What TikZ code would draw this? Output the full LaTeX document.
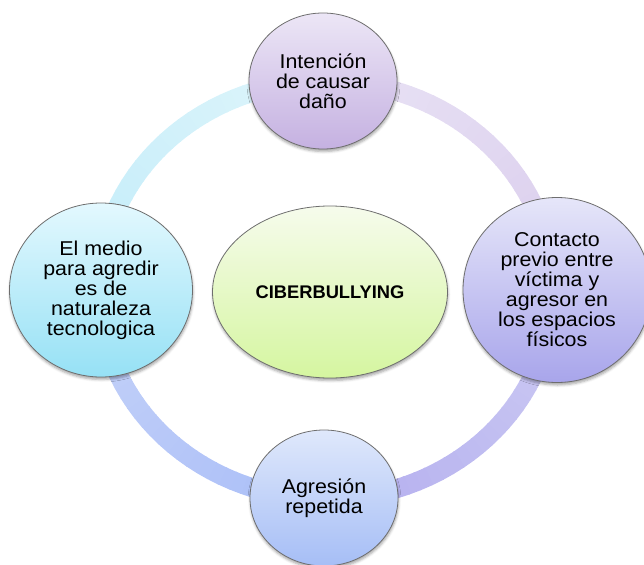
\documentclass[tikz,border=0pt]{standalone}
\usepackage{fontspec}
\setmainfont{Liberation Sans}[FakeStretch=1.07]
\newfontfamily\titlefont{Liberation Sans}
\usetikzlibrary{shapes.geometric,shadows.blur}
\definecolor{bordergray}{HTML}{6E6E6E}
\definecolor{topT}{HTML}{ECE6F6}\definecolor{topB}{HTML}{C5B1E1}
\definecolor{rightT}{HTML}{E6E6F9}\definecolor{rightB}{HTML}{A8A5EB}
\definecolor{botT}{HTML}{DFE8FB}\definecolor{botB}{HTML}{A6BEF6}
\definecolor{leftT}{HTML}{E3F8FE}\definecolor{leftB}{HTML}{96E1F5}
\definecolor{cenT}{HTML}{F6FBEC}\definecolor{cenB}{HTML}{D5F6A0}
\definecolor{trTop}{HTML}{E9E3F5}\definecolor{trRight}{HTML}{DACDED}
\definecolor{brRight}{HTML}{CFCDF3}\definecolor{brBottom}{HTML}{B3AEEF}
\definecolor{blBottom}{HTML}{A9BDF7}\definecolor{blLeft}{HTML}{C6D3F9}
\definecolor{tlLeft}{HTML}{C2ECF9}\definecolor{tlTop}{HTML}{DFF5FB}
\AtBeginDocument{\lineskiplimit=-20pt\relax}
\begin{document}
\begin{tikzpicture}[x=1pt,y=-1pt,
  bubble/.style={ellipse, draw=bordergray, line width=0.8pt, inner sep=0pt, align=center,
    font=\fontsize{20}{20}\selectfont,
    blur shadow={shadow xshift=0.5pt, shadow yshift=-2.5pt, shadow blur radius=2.5pt, shadow opacity=35}},
  ringseg/.style={line width=19pt, line cap=butt}]
\useasboundingbox (0,0) rectangle (644,564);
% ring
\foreach \q/\cs/\ce in {270/trTop/trRight, 0/brRight/brBottom, 90/blBottom/blLeft, 180/tlLeft/tlTop}{
  \foreach \i in {0,...,29}{
    \pgfmathsetmacro\a{\q+\i*3}
    \pgfmathtruncatemacro\p{100-\i*100/29}
    \draw[ringseg, draw=\cs!\p!\ce] plot[domain=\a:\a+3.4, samples=5] ({326+227*cos(\x)},{290+209*sin(\x)});
  }
}
% nodes
\node[bubble, minimum width=148pt, minimum height=136pt, top color=topT, bottom color=topB]
  (intencion) at (323,81) {Intención\\de causar\\daño};
\node[bubble, minimum width=188pt, minimum height=185pt, top color=rightT, bottom color=rightB]
  (contacto) at (557,290) {Contacto\\previo entre\\víctima y\\agresor en\\los espacios\\físicos};
\node[bubble, minimum width=148pt, minimum height=136pt, top color=botT, bottom color=botB]
  (agresion) at (324,498) {Agresión\\repetida};
\node[bubble, minimum width=183pt, minimum height=174pt, top color=leftT, bottom color=leftB]
  (medio) at (101,290) {El medio\\para agredir\\es de\\naturaleza\\tecnologica};
\node[bubble, minimum width=235pt, minimum height=172pt, top color=cenT, bottom color=cenB,
  font=\titlefont\bfseries\fontsize{18.3}{20}\selectfont]
  (ciber) at (330,292) {CIBERBULLYING};
\end{tikzpicture}
\end{document}
